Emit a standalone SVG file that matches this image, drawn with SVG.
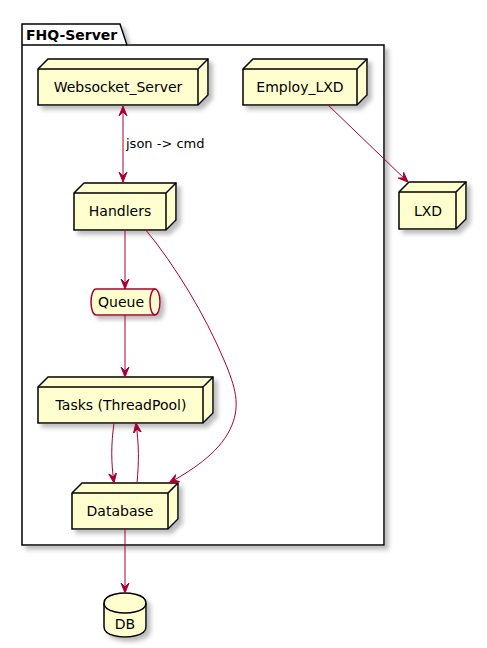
<svg xmlns="http://www.w3.org/2000/svg" width="487" height="648" viewBox="0 0 487 648">
<style>
.node{fill:#FEFECE;stroke:#000000;stroke-width:1.5;}
.edge{fill:none;stroke:#000000;stroke-width:1.5;}
.lbl{font-family:"DejaVu Sans",sans-serif;font-size:14px;fill:#000000;text-anchor:middle;}
.elbl{font-family:"DejaVu Sans",sans-serif;font-size:13px;fill:#000000;}
.title{font-family:"DejaVu Sans",sans-serif;font-size:14px;font-weight:bold;fill:#000000;}
.conn{fill:none;stroke:#A80036;stroke-width:1;}
</style>
<defs>
<filter id="sh" x="-20%" y="-20%" width="150%" height="150%">
<feGaussianBlur in="SourceAlpha" stdDeviation="2"/>
<feOffset dx="4" dy="4" result="b"/>
<feColorMatrix in="b" type="matrix" values="0 0 0 0 0.2  0 0 0 0 0.2  0 0 0 0 0.2  0 0 0 0.5 0" result="c"/>
<feMerge><feMergeNode in="c"/><feMergeNode in="SourceGraphic"/></feMerge>
</filter>
<marker id="ah" viewBox="0 0 10 10" refX="10" refY="5" markerWidth="10" markerHeight="10" markerUnits="userSpaceOnUse" orient="auto">
<path d="M0,1 L10,5 L0,9 L4,5 Z" fill="#A80036" stroke="#A80036" stroke-width="1"/>
</marker>
<marker id="ahs" viewBox="0 0 10 10" refX="0" refY="5" markerWidth="10" markerHeight="10" markerUnits="userSpaceOnUse" orient="auto">
<path d="M10,1 L0,5 L10,9 L6,5 Z" fill="#A80036" stroke="#A80036" stroke-width="1"/>
</marker>
</defs>
<rect width="487" height="648" fill="#FFFFFF"/>
<g id="FHQ-Server">
<path d="M22,24 L120,24 L127,45 L384,45 L384,545 L22,545 Z" fill="#FFFFFF" stroke="#000000" stroke-width="1.5" filter="url(#sh)"/>
<path d="M22,45 L127,45" class="edge"/>
<text x="26" y="40" class="title">FHQ-Server</text>
</g>
<g id="Websocket_Server">
<path d="M38,69 L48,59 L208,59 L208,95 L198,105 L38,105 Z" class="node" filter="url(#sh)"/>
<path d="M38,69 L198,69 L208,59 M198,69 L198,105" class="edge"/>
<text x="118" y="92" class="lbl">Websocket_Server</text>
</g>
<g id="Employ_LXD">
<path d="M243,69 L253,59 L367,59 L367,95 L357,105 L243,105 Z" class="node" filter="url(#sh)"/>
<path d="M243,69 L357,69 L367,59 M357,69 L357,105" class="edge"/>
<text x="300" y="92" class="lbl">Employ_LXD</text>
</g>
<g id="Handlers">
<path d="M74,193 L84,183 L176,183 L176,220 L166,230 L74,230 Z" class="node" filter="url(#sh)"/>
<path d="M74,193 L166,193 L176,183 M166,193 L166,230" class="edge"/>
<text x="120" y="216" class="lbl">Handlers</text>
</g>
<g id="LXD">
<path d="M399,192 L409,182 L466,182 L466,219 L456,229 L399,229 Z" class="node" filter="url(#sh)"/>
<path d="M399,192 L456,192 L466,182 M456,192 L456,229" class="edge"/>
<text x="428" y="216" class="lbl">LXD</text>
</g>
<g id="Queue">
<path d="M96,289 L155,289 A5,13 0 0 1 155,315 L96,315 A5,13 0 0 1 96,289 Z" fill="#FEFECE" stroke="#A80036" stroke-width="1.5" filter="url(#sh)"/>
<path d="M155,289 A5,13 0 0 0 155,315" fill="none" stroke="#A80036" stroke-width="1.5"/>
<text x="121" y="307" class="lbl">Queue</text>
</g>
<g id="Tasks">
<path d="M38,387 L48,377 L213,377 L213,413 L203,423 L38,423 Z" class="node" filter="url(#sh)"/>
<path d="M38,387 L203,387 L213,377 M203,387 L203,423" class="edge"/>
<text x="121" y="410" class="lbl">Tasks (ThreadPool)</text>
</g>
<g id="Database">
<path d="M72,493 L82,483 L178,483 L178,519 L168,529 L72,529 Z" class="node" filter="url(#sh)"/>
<path d="M72,493 L168,493 L178,483 M168,493 L168,529" class="edge"/>
<text x="120" y="516" class="lbl">Database</text>
</g>
<g id="DB">
<path d="M104,603 C104,593 125,593 125,593 C125,593 146,593 146,603 L146,627 C146,637 125,637 125,637 C125,637 104,637 104,627 Z" class="node" filter="url(#sh)"/>
<path d="M104,603 C104,613 125,613 125,613 C125,613 146,613 146,603" class="edge"/>
<text x="125" y="629" class="lbl">DB</text>
</g>
<g id="connectors">
<path d="M123,106 L123,182" class="conn" marker-start="url(#ahs)" marker-end="url(#ah)"/>
<text x="126" y="148" class="elbl">json -&gt; cmd</text>
<path d="M328,105 L408,182" class="conn" marker-end="url(#ah)"/>
<path d="M125,230 L125,289" class="conn" marker-end="url(#ah)"/>
<path d="M125,315 L125,377" class="conn" marker-end="url(#ah)"/>
<path d="M114,423 C111,445 111,462 114,483" class="conn" marker-end="url(#ah)"/>
<path d="M137,483 C139,462 139,445 136,423" class="conn" marker-end="url(#ah)"/>
<path d="M145,229 C175,265 205,315 224,360 C236,388 240,405 232,425 C222,450 196,468 169,483" class="conn" marker-end="url(#ah)"/>
<path d="M125,529 L125,593" class="conn" marker-end="url(#ah)"/>
</g>
</svg>
